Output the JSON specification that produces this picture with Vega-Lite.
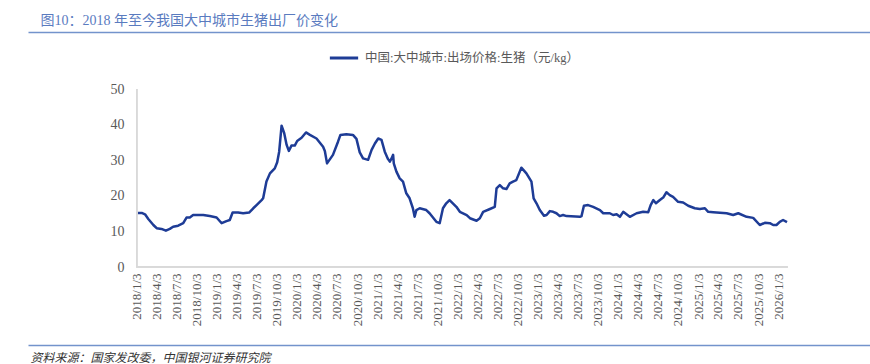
{
  "$schema": "https://vega.github.io/schema/vega-lite/v6.json",
  "width": 842,
  "height": 178,
  "autosize": {"type": "none"},
  "padding": {"left": 28, "top": 89, "right": 0, "bottom": 97},
  "background": "white",
  "config": {"view": {"stroke": null}, "axisY": {"labelOverlap": false}},
  "data": {"values": [
    {"date": "2018-01-03", "price": 15.2},
    {"date": "2018-01-26", "price": 15.2},
    {"date": "2018-02-10", "price": 14.8},
    {"date": "2018-02-25", "price": 13.5},
    {"date": "2018-03-20", "price": 11.8},
    {"date": "2018-04-04", "price": 10.9},
    {"date": "2018-04-26", "price": 10.7},
    {"date": "2018-05-16", "price": 10.2},
    {"date": "2018-06-03", "price": 10.7},
    {"date": "2018-06-18", "price": 11.3},
    {"date": "2018-07-11", "price": 11.6},
    {"date": "2018-08-03", "price": 12.3},
    {"date": "2018-08-18", "price": 13.9},
    {"date": "2018-09-02", "price": 13.9},
    {"date": "2018-09-17", "price": 14.6},
    {"date": "2018-11-02", "price": 14.6},
    {"date": "2018-12-02", "price": 14.3},
    {"date": "2019-01-02", "price": 13.9},
    {"date": "2019-01-25", "price": 12.3},
    {"date": "2019-02-16", "price": 12.9},
    {"date": "2019-03-03", "price": 13.2},
    {"date": "2019-03-16", "price": 15.3},
    {"date": "2019-04-10", "price": 15.3},
    {"date": "2019-05-03", "price": 15.1},
    {"date": "2019-05-30", "price": 15.3},
    {"date": "2019-06-18", "price": 16.5},
    {"date": "2019-07-03", "price": 17.4},
    {"date": "2019-07-26", "price": 18.8},
    {"date": "2019-08-02", "price": 19.3},
    {"date": "2019-08-17", "price": 24.0},
    {"date": "2019-09-02", "price": 26.3},
    {"date": "2019-09-24", "price": 27.7},
    {"date": "2019-10-05", "price": 29.4},
    {"date": "2019-10-14", "price": 32.4},
    {"date": "2019-10-25", "price": 39.7},
    {"date": "2019-11-06", "price": 37.6},
    {"date": "2019-11-17", "price": 34.3},
    {"date": "2019-11-27", "price": 32.6},
    {"date": "2019-12-09", "price": 34.1},
    {"date": "2019-12-24", "price": 34.1},
    {"date": "2020-01-04", "price": 35.4},
    {"date": "2020-01-24", "price": 36.3},
    {"date": "2020-02-13", "price": 37.8},
    {"date": "2020-03-02", "price": 37.1},
    {"date": "2020-04-01", "price": 36.1},
    {"date": "2020-05-01", "price": 33.8},
    {"date": "2020-05-09", "price": 32.6},
    {"date": "2020-05-19", "price": 29.1},
    {"date": "2020-06-15", "price": 31.5},
    {"date": "2020-07-08", "price": 35.2},
    {"date": "2020-07-19", "price": 37.1},
    {"date": "2020-08-15", "price": 37.3},
    {"date": "2020-09-14", "price": 37.1},
    {"date": "2020-09-30", "price": 36.0},
    {"date": "2020-10-15", "price": 32.2},
    {"date": "2020-10-30", "price": 30.5},
    {"date": "2020-11-22", "price": 30.1},
    {"date": "2020-12-08", "price": 32.9},
    {"date": "2020-12-23", "price": 34.7},
    {"date": "2021-01-07", "price": 36.1},
    {"date": "2021-01-22", "price": 35.7},
    {"date": "2021-02-06", "price": 32.4},
    {"date": "2021-02-21", "price": 30.3},
    {"date": "2021-03-01", "price": 29.6},
    {"date": "2021-03-09", "price": 30.5},
    {"date": "2021-03-16", "price": 31.5},
    {"date": "2021-03-19", "price": 29.1},
    {"date": "2021-03-31", "price": 26.8},
    {"date": "2021-04-15", "price": 24.9},
    {"date": "2021-04-30", "price": 24.0},
    {"date": "2021-05-15", "price": 20.7},
    {"date": "2021-05-30", "price": 19.3},
    {"date": "2021-06-14", "price": 16.5},
    {"date": "2021-06-22", "price": 14.1},
    {"date": "2021-06-30", "price": 16.0},
    {"date": "2021-07-15", "price": 16.5},
    {"date": "2021-08-14", "price": 16.0},
    {"date": "2021-08-29", "price": 15.1},
    {"date": "2021-09-29", "price": 12.7},
    {"date": "2021-10-14", "price": 12.3},
    {"date": "2021-10-29", "price": 16.5},
    {"date": "2021-11-13", "price": 17.9},
    {"date": "2021-11-28", "price": 18.8},
    {"date": "2021-12-13", "price": 17.9},
    {"date": "2021-12-29", "price": 16.9},
    {"date": "2022-01-14", "price": 15.5},
    {"date": "2022-02-14", "price": 14.6},
    {"date": "2022-03-01", "price": 13.7},
    {"date": "2022-03-31", "price": 13.0},
    {"date": "2022-04-15", "price": 13.7},
    {"date": "2022-04-30", "price": 15.5},
    {"date": "2022-05-31", "price": 16.3},
    {"date": "2022-06-22", "price": 16.9},
    {"date": "2022-06-30", "price": 22.1},
    {"date": "2022-07-15", "price": 23.0},
    {"date": "2022-07-30", "price": 22.1},
    {"date": "2022-08-14", "price": 21.9},
    {"date": "2022-08-29", "price": 23.5},
    {"date": "2022-09-13", "price": 24.0},
    {"date": "2022-09-28", "price": 24.4},
    {"date": "2022-10-21", "price": 27.9},
    {"date": "2022-11-13", "price": 26.3},
    {"date": "2022-12-06", "price": 24.0},
    {"date": "2022-12-16", "price": 19.3},
    {"date": "2022-12-29", "price": 17.9},
    {"date": "2023-01-13", "price": 16.0},
    {"date": "2023-02-01", "price": 14.4},
    {"date": "2023-02-13", "price": 14.6},
    {"date": "2023-02-28", "price": 15.7},
    {"date": "2023-03-15", "price": 15.5},
    {"date": "2023-03-30", "price": 15.1},
    {"date": "2023-04-14", "price": 14.3},
    {"date": "2023-04-29", "price": 14.6},
    {"date": "2023-05-15", "price": 14.3},
    {"date": "2023-07-15", "price": 14.1},
    {"date": "2023-07-22", "price": 14.3},
    {"date": "2023-08-02", "price": 17.2},
    {"date": "2023-08-21", "price": 17.4},
    {"date": "2023-09-13", "price": 16.9},
    {"date": "2023-10-14", "price": 16.0},
    {"date": "2023-10-29", "price": 15.1},
    {"date": "2023-11-28", "price": 15.1},
    {"date": "2023-12-13", "price": 14.6},
    {"date": "2023-12-29", "price": 14.8},
    {"date": "2024-01-13", "price": 14.1},
    {"date": "2024-01-28", "price": 15.5},
    {"date": "2024-02-12", "price": 14.8},
    {"date": "2024-02-27", "price": 14.1},
    {"date": "2024-03-29", "price": 15.1},
    {"date": "2024-04-28", "price": 15.5},
    {"date": "2024-05-21", "price": 15.4},
    {"date": "2024-06-01", "price": 17.4},
    {"date": "2024-06-13", "price": 18.8},
    {"date": "2024-06-25", "price": 17.9},
    {"date": "2024-07-13", "price": 18.8},
    {"date": "2024-07-28", "price": 19.5},
    {"date": "2024-08-12", "price": 21.0},
    {"date": "2024-08-27", "price": 20.2},
    {"date": "2024-09-11", "price": 19.7},
    {"date": "2024-10-04", "price": 18.3},
    {"date": "2024-10-27", "price": 18.1},
    {"date": "2024-11-19", "price": 17.2},
    {"date": "2024-12-19", "price": 16.5},
    {"date": "2025-01-11", "price": 16.3},
    {"date": "2025-02-03", "price": 16.5},
    {"date": "2025-02-18", "price": 15.5},
    {"date": "2025-03-13", "price": 15.4},
    {"date": "2025-05-13", "price": 15.1},
    {"date": "2025-06-12", "price": 14.6},
    {"date": "2025-07-05", "price": 15.1},
    {"date": "2025-08-12", "price": 14.1},
    {"date": "2025-09-11", "price": 13.8},
    {"date": "2025-10-11", "price": 11.8},
    {"date": "2025-11-03", "price": 12.4},
    {"date": "2025-11-26", "price": 12.3},
    {"date": "2025-12-11", "price": 11.8},
    {"date": "2025-12-26", "price": 11.8},
    {"date": "2026-01-10", "price": 12.7},
    {"date": "2026-01-25", "price": 13.2},
    {"date": "2026-02-12", "price": 12.6}
  ]},
  "resolve": {"axis": {"x": "independent", "y": "independent"}},
  "layer": [
    {
      "mark": {"type": "line", "strokeWidth": 2.5, "strokeJoin": "round"},
      "encoding": {
        "x": {
          "field": "date", "type": "temporal",
          "scale": {"type": "utc", "domain": [
            {"year": 2016, "month": 8, "date": 26, "utc": true},
            {"year": 2027, "month": 2, "date": 25, "utc": true}
          ]},
          "axis": {
            "orient": "bottom", "title": null, "domain": false, "ticks": false, "grid": false,
            "labelAngle": -90, "labelAlign": "right", "labelBaseline": "middle",
            "labelPadding": 6, "labelFont": "Liberation Serif", "labelFontSize": 13,
            "labelColor": "#595959", "labelOverlap": false, "labelFlush": false,
            "labelExpr": "utcFormat(datum.value, '%Y/%-m/%-d')",
            "values": [
              {"year": 2018, "month": 1, "date": 3, "utc": true},
              {"year": 2018, "month": 4, "date": 3, "utc": true},
              {"year": 2018, "month": 7, "date": 3, "utc": true},
              {"year": 2018, "month": 10, "date": 3, "utc": true},
              {"year": 2019, "month": 1, "date": 3, "utc": true},
              {"year": 2019, "month": 4, "date": 3, "utc": true},
              {"year": 2019, "month": 7, "date": 3, "utc": true},
              {"year": 2019, "month": 10, "date": 3, "utc": true},
              {"year": 2020, "month": 1, "date": 3, "utc": true},
              {"year": 2020, "month": 4, "date": 3, "utc": true},
              {"year": 2020, "month": 7, "date": 3, "utc": true},
              {"year": 2020, "month": 10, "date": 3, "utc": true},
              {"year": 2021, "month": 1, "date": 3, "utc": true},
              {"year": 2021, "month": 4, "date": 3, "utc": true},
              {"year": 2021, "month": 7, "date": 3, "utc": true},
              {"year": 2021, "month": 10, "date": 3, "utc": true},
              {"year": 2022, "month": 1, "date": 3, "utc": true},
              {"year": 2022, "month": 4, "date": 3, "utc": true},
              {"year": 2022, "month": 7, "date": 3, "utc": true},
              {"year": 2022, "month": 10, "date": 3, "utc": true},
              {"year": 2023, "month": 1, "date": 3, "utc": true},
              {"year": 2023, "month": 4, "date": 3, "utc": true},
              {"year": 2023, "month": 7, "date": 3, "utc": true},
              {"year": 2023, "month": 10, "date": 3, "utc": true},
              {"year": 2024, "month": 1, "date": 3, "utc": true},
              {"year": 2024, "month": 4, "date": 3, "utc": true},
              {"year": 2024, "month": 7, "date": 3, "utc": true},
              {"year": 2024, "month": 10, "date": 3, "utc": true},
              {"year": 2025, "month": 1, "date": 3, "utc": true},
              {"year": 2025, "month": 4, "date": 3, "utc": true},
              {"year": 2025, "month": 7, "date": 3, "utc": true},
              {"year": 2025, "month": 10, "date": 3, "utc": true},
              {"year": 2026, "month": 1, "date": 3, "utc": true}
            ]
          }
        },
        "y": {
          "field": "price", "type": "quantitative",
          "scale": {"domain": [0, 50], "nice": false, "zero": true},
          "axis": {
            "orient": "left", "title": null, "domain": false, "ticks": false, "grid": false,
            "offset": -109, "labelPadding": 13, "labelOverlap": false,
            "values": [0, 10, 20, 30, 40, 50],
            "labelFont": "Liberation Serif", "labelFontSize": 14, "labelColor": "#595959"
          }
        },
        "color": {
          "datum": "中国:大中城市:出场价格:生猪（元/kg）",
          "type": "nominal",
          "scale": {"range": ["#1e3c96"]},
          "legend": {
            "title": null, "orient": "none", "legendX": 300, "legendY": -47,
            "symbolType": "stroke", "symbolSize": 800, "symbolStrokeWidth": 3,
            "labelFont": "Liberation Serif, Noto Sans CJK SC", "labelFontSize": 12.5,
            "labelColor": "#595959", "labelOffset": 5, "labelLimit": 400
          }
        }
      }
    },
    {
      "mark": {"type": "rule", "color": "#d9d9d9", "strokeWidth": 1},
      "encoding": {
        "x": {
          "datum": {"year": 2018, "month": 1, "date": 3, "utc": true}, "type": "temporal",
          "axis": {
            "orient": "top", "offset": 57, "labels": false, "ticks": false, "grid": false,
            "domain": true, "domainColor": "#7393cc", "domainWidth": 1.3,
            "title": "图10：2018 年至今我国大中城市生猪出厂价变化",
            "titleX": 12, "titleY": -12, "titleAlign": "left", "titleBaseline": "middle",
            "titleFont": "Liberation Serif, Noto Sans CJK SC", "titleFontSize": 14,
            "titleFontWeight": "normal", "titleColor": "#5a7bbf"
          }
        },
        "x2": {"datum": {"year": 2026, "month": 2, "date": 13, "utc": true}},
        "y": {"datum": 0, "type": "quantitative", "axis": null}
      }
    },
    {
      "mark": {"type": "rule", "color": "#d9d9d9", "strokeWidth": 1},
      "encoding": {
        "x": {
          "datum": {"year": 2018, "month": 1, "date": 3, "utc": true}, "type": "temporal",
          "axis": {
            "orient": "bottom", "offset": 78, "labels": false, "ticks": false, "grid": false,
            "domain": true, "domainColor": "#7393cc", "domainWidth": 1.3,
            "title": "资料来源：国家发改委，中国银河证券研究院",
            "titleX": 2, "titleY": 12, "titleAlign": "left", "titleBaseline": "middle",
            "titleFont": "Liberation Serif, Noto Sans CJK SC", "titleFontSize": 12,
            "titleFontWeight": "normal", "titleFontStyle": "italic", "titleColor": "#333333"
          }
        },
        "y": {"datum": 0, "type": "quantitative", "axis": null},
        "y2": {"datum": 50}
      }
    }
  ]
}
